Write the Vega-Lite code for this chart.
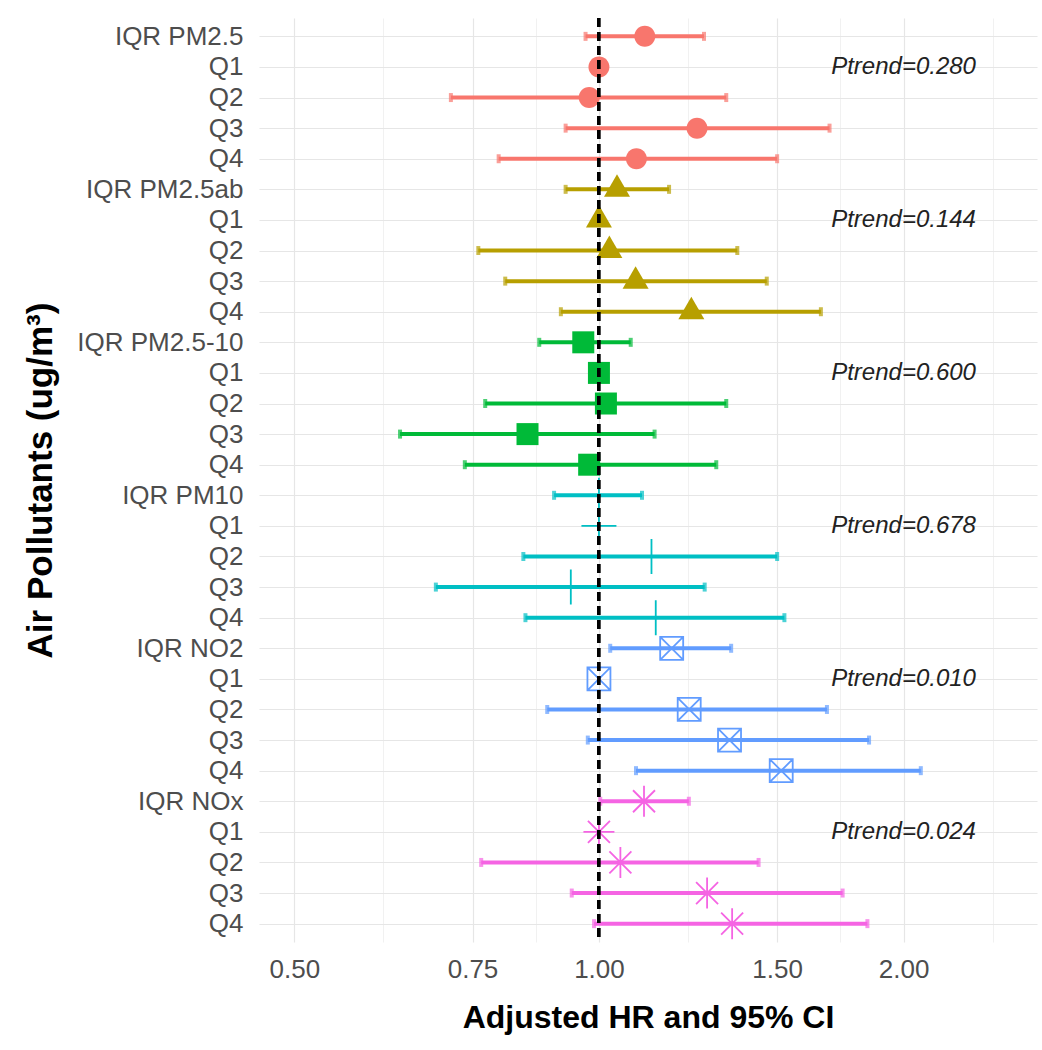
{
  "$schema": "https://vega.github.io/schema/vega-lite/v6.json",
  "width": 778,
  "height": 924,
  "autosize": {"type": "none"},
  "padding": {"left": 259, "top": 18, "right": 5, "bottom": 108},
  "background": "white",
  "config": {
    "view": {"stroke": null},
    "font": "Liberation Sans",
    "axis": {"labelFont": "Liberation Sans", "titleFont": "Liberation Sans"}
  },
  "data": {
    "values": [
      {"key": "01|IQR PM2.5", "pollutant": "PM2.5", "hr": 1.11, "lo": 0.97, "hi": 1.27},
      {"key": "02|Q1", "pollutant": "PM2.5", "hr": 1.0, "lo": null, "hi": null, "ptrend": "Ptrend=0.280", "px": 2.0},
      {"key": "03|Q2", "pollutant": "PM2.5", "hr": 0.978, "lo": 0.714, "hi": 1.336},
      {"key": "04|Q3", "pollutant": "PM2.5", "hr": 1.25, "lo": 0.927, "hi": 1.69},
      {"key": "05|Q4", "pollutant": "PM2.5", "hr": 1.089, "lo": 0.796, "hi": 1.5},
      {"key": "06|IQR PM2.5ab", "pollutant": "PM2.5ab", "hr": 1.042, "lo": 0.927, "hi": 1.173},
      {"key": "07|Q1", "pollutant": "PM2.5ab", "hr": 1.0, "lo": null, "hi": null, "ptrend": "Ptrend=0.144", "px": 2.0},
      {"key": "08|Q2", "pollutant": "PM2.5ab", "hr": 1.024, "lo": 0.76, "hi": 1.37},
      {"key": "09|Q3", "pollutant": "PM2.5ab", "hr": 1.087, "lo": 0.808, "hi": 1.465},
      {"key": "10|Q4", "pollutant": "PM2.5ab", "hr": 1.234, "lo": 0.917, "hi": 1.657},
      {"key": "11|IQR PM2.5-10", "pollutant": "PM2.5-10", "hr": 0.965, "lo": 0.873, "hi": 1.075},
      {"key": "12|Q1", "pollutant": "PM2.5-10", "hr": 1.0, "lo": null, "hi": null, "ptrend": "Ptrend=0.600", "px": 2.0},
      {"key": "13|Q2", "pollutant": "PM2.5-10", "hr": 1.016, "lo": 0.772, "hi": 1.336},
      {"key": "14|Q3", "pollutant": "PM2.5-10", "hr": 0.85, "lo": 0.636, "hi": 1.135},
      {"key": "15|Q4", "pollutant": "PM2.5-10", "hr": 0.978, "lo": 0.737, "hi": 1.306},
      {"key": "16|IQR PM10", "pollutant": "PM10", "hr": 1.0, "lo": 0.903, "hi": 1.103},
      {"key": "17|Q1", "pollutant": "PM10", "hr": 1.0, "lo": null, "hi": null, "ptrend": "Ptrend=0.678", "px": 2.0},
      {"key": "18|Q2", "pollutant": "PM10", "hr": 1.127, "lo": 0.842, "hi": 1.5},
      {"key": "19|Q3", "pollutant": "PM10", "hr": 0.938, "lo": 0.69, "hi": 1.272},
      {"key": "20|Q4", "pollutant": "PM10", "hr": 1.138, "lo": 0.846, "hi": 1.525},
      {"key": "21|IQR NO2", "pollutant": "NO2", "hr": 1.18, "lo": 1.026, "hi": 1.351},
      {"key": "22|Q1", "pollutant": "NO2", "hr": 1.0, "lo": null, "hi": null, "ptrend": "Ptrend=0.010", "px": 2.0},
      {"key": "23|Q2", "pollutant": "NO2", "hr": 1.228, "lo": 0.889, "hi": 1.68},
      {"key": "24|Q3", "pollutant": "NO2", "hr": 1.346, "lo": 0.975, "hi": 1.849},
      {"key": "25|Q4", "pollutant": "NO2", "hr": 1.514, "lo": 1.088, "hi": 2.08},
      {"key": "26|IQR NOx", "pollutant": "NOx", "hr": 1.108, "lo": 1.003, "hi": 1.227},
      {"key": "27|Q1", "pollutant": "NOx", "hr": 1.0, "lo": null, "hi": null, "ptrend": "Ptrend=0.024", "px": 2.0},
      {"key": "28|Q2", "pollutant": "NOx", "hr": 1.05, "lo": 0.765, "hi": 1.438},
      {"key": "29|Q3", "pollutant": "NOx", "hr": 1.279, "lo": 0.94, "hi": 1.741},
      {"key": "30|Q4", "pollutant": "NOx", "hr": 1.354, "lo": 0.989, "hi": 1.842}
    ]
  },
  "resolve": {"axis": {"x": "independent"}},
  "layer": [
    {
      "transform": [{"filter": "datum.lo != null"}],
      "mark": {"type": "rule", "strokeWidth": 4},
      "encoding": {
        "x": {"field": "lo", "type": "quantitative",
          "scale": {"type": "log", "domain": [0.4614, 2.7095], "nice": false, "zero": false},
          "axis": {"orient": "top", "values": [0.6124, 0.866, 1.2247, 1.7321, 2.4495], "labels": false, "ticks": false, "tickSize": 0, "domain": false, "title": null, "grid": true, "gridColor": "#EDEDED", "gridWidth": 0.8}},
        "x2": {"field": "hi"},
        "y": {"field": "key", "type": "ordinal", "sort": "ascending",
          "scale": {"type": "point", "padding": 0.6},
          "axis": {"labelExpr": "split(datum.value, '|')[1]", "labelFontSize": 26, "labelColor": "#4D4D4D", "labelPadding": 16, "ticks": false, "tickSize": 0, "domain": false, "grid": true, "gridColor": "#E6E6E6", "gridWidth": 1.2, "title": "Air Pollutants (ug/m³)", "titleFontSize": 35, "titleFontWeight": "bold", "titleColor": "#000000", "titlePadding": 18}},
        "color": {"field": "pollutant", "type": "nominal", "legend": null,
          "scale": {"domain": ["PM2.5", "PM2.5ab", "PM2.5-10", "PM10", "NO2", "NOx"], "range": ["#F8766D", "#B79F00", "#00BA38", "#00BFC4", "#619CFF", "#F564E3"]}}
      }
    },
    {
      "transform": [{"filter": "datum.lo != null"}],
      "mark": {"type": "tick", "size": 9, "thickness": 4},
      "encoding": {
        "x": {"field": "lo", "type": "quantitative", "axis": null},
        "y": {"field": "key", "type": "ordinal"},
        "color": {"field": "pollutant", "type": "nominal", "legend": null}
      }
    },
    {
      "transform": [{"filter": "datum.hi != null"}],
      "mark": {"type": "tick", "size": 9, "thickness": 4},
      "encoding": {
        "x": {"field": "hi", "type": "quantitative", "axis": null},
        "y": {"field": "key", "type": "ordinal"},
        "color": {"field": "pollutant", "type": "nominal", "legend": null}
      }
    },
    {
      "transform": [{"filter": "indexof(['PM2.5','PM2.5ab','PM2.5-10'], datum.pollutant) >= 0"}],
      "mark": {"type": "point", "filled": true, "size": 400, "opacity": 1},
      "encoding": {
        "x": {"field": "hr", "type": "quantitative",
          "axis": {"orient": "bottom", "values": [0.5, 0.75, 1, 1.5, 2], "format": ".2f", "labelFontSize": 26, "labelColor": "#4D4D4D", "labelPadding": 14, "ticks": false, "tickSize": 0, "domain": false, "grid": true, "gridColor": "#E6E6E6", "gridWidth": 1.2, "title": "Adjusted HR and 95% CI", "titleFontSize": 32, "titleFontWeight": "bold", "titleColor": "#000000", "titlePadding": 20}},
        "y": {"field": "key", "type": "ordinal"},
        "color": {"field": "pollutant", "type": "nominal", "legend": null},
        "shape": {"field": "pollutant", "type": "nominal", "legend": null,
          "scale": {"domain": ["PM2.5", "PM2.5ab", "PM2.5-10", "PM10", "NO2", "NOx"],
            "range": [
              "M-1.05,0A1.05,1.05,0,1,1,1.05,0A1.05,1.05,0,1,1,-1.05,0Z",
              "M0,-1.5L1.3,0.75L-1.3,0.75Z",
              "M-1.1,-1.1L1.1,-1.1L1.1,1.1L-1.1,1.1Z",
              "M-1.75,0L1.75,0M0,-1.75L0,1.75",
              "M-1.15,-1.15L1.15,-1.15L1.15,1.15L-1.15,1.15ZM-1.15,-1.15L1.15,1.15M-1.15,1.15L1.15,-1.15",
              "M-1.1,-1.1L1.1,1.1M-1.1,1.1L1.1,-1.1M-1.55,0L1.55,0M0,-1.55L0,1.55"
            ]}}
      }
    },
    {
      "transform": [{"filter": "indexof(['PM10','NO2','NOx'], datum.pollutant) >= 0"}],
      "mark": {"type": "point", "filled": false, "size": 400, "strokeWidth": 1.8, "opacity": 1},
      "encoding": {
        "x": {"field": "hr", "type": "quantitative", "axis": null},
        "y": {"field": "key", "type": "ordinal"},
        "color": {"field": "pollutant", "type": "nominal", "legend": null},
        "shape": {"field": "pollutant", "type": "nominal", "legend": null}
      }
    },
    {
      "mark": {"type": "rule", "strokeDash": [9, 5], "strokeWidth": 2.2, "color": "#000000"},
      "encoding": {
        "x": {"datum": 1, "type": "quantitative", "axis": null}
      }
    },
    {
      "transform": [{"filter": "datum.ptrend != null"}],
      "mark": {"type": "text", "fontStyle": "italic", "fontSize": 24, "color": "#222222", "align": "center", "baseline": "middle"},
      "encoding": {
        "x": {"field": "px", "type": "quantitative", "axis": null},
        "y": {"field": "key", "type": "ordinal"},
        "text": {"field": "ptrend"}
      }
    }
  ]
}
